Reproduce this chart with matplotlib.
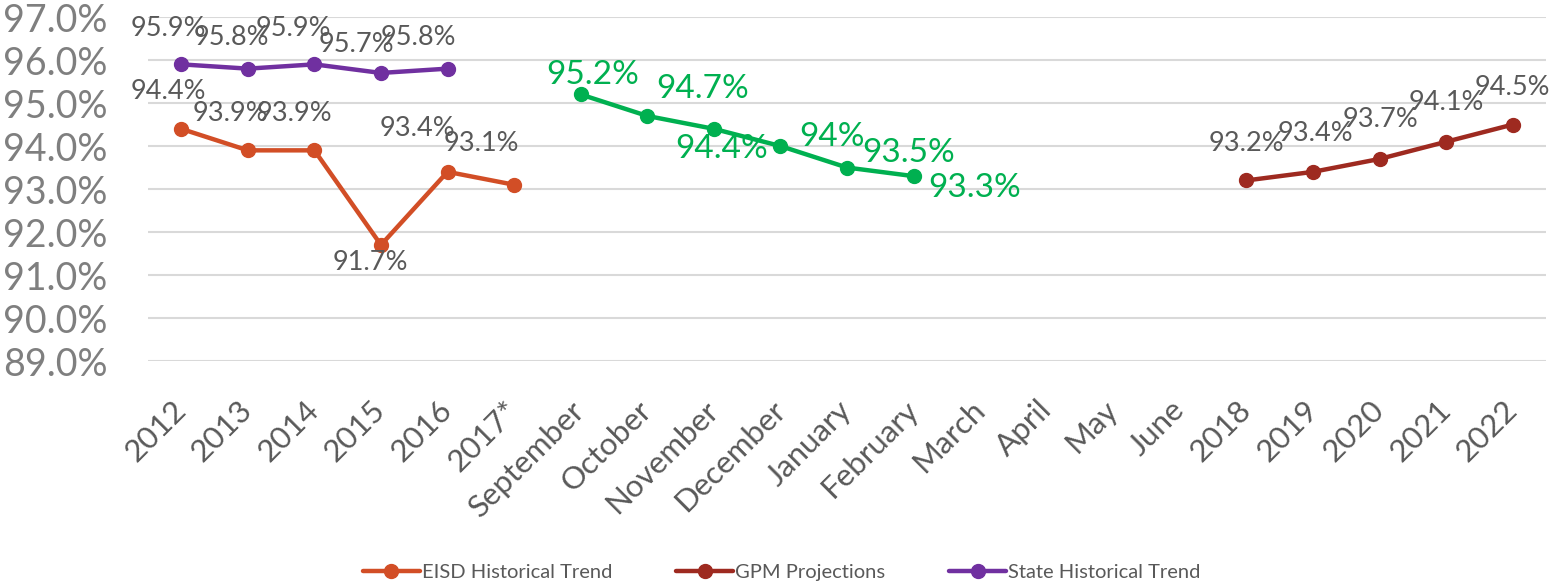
import matplotlib.pyplot as plt
import numpy as np

plt.rcParams['font.family'] = ['Lato', 'DejaVu Sans']

categories = ['2012', '2013', '2014', '2015', '2016', '2017*',
              'September', 'October', 'November', 'December', 'January', 'February',
              'March', 'April', 'May', 'June',
              '2018', '2019', '2020', '2021', '2022']

eisd_cats = ['2012', '2013', '2014', '2015', '2016', '2017*']
eisd_vals = [94.4, 93.9, 93.9, 91.7, 93.4, 93.1]

state_cats = ['2012', '2013', '2014', '2015', '2016']
state_vals = [95.9, 95.8, 95.9, 95.7, 95.8]

month_cats = ['September', 'October', 'November', 'December', 'January', 'February']
month_vals = [95.2, 94.7, 94.4, 94.0, 93.5, 93.3]
month_labels = ['95.2%', '94.7%', '94.4%', '94%', '93.5%', '93.3%']

gpm_cats = ['2018', '2019', '2020', '2021', '2022']
gpm_vals = [93.2, 93.4, 93.7, 94.1, 94.5]

# label offsets in pixels (dx, dy)
eisd_off = [(-13, 37), (-17, 37), (-20, 37), (-11, -18), (-30, 43), (-33, 41)]
state_off = [(-13, 36), (-16, 31), (-21, 36), (-25, 28), (-29, 31)]
month_off = [(12, 19), (55, 27), (8, -20), (52, 9), (62, 15), (61, -12)]
gpm_off = [(0, 37), (2, 38), (1, 39), (0, 39), (0, 37)]

GRAY = '#595959'

fig = plt.figure(figsize=(15.54, 5.88), dpi=100)
ax = fig.add_axes([0.0952, 0.386, 0.8997, 0.585])


def draw(cats, vals, color, label, offs, texts=None, tcolor=GRAY, tsize=19.5):
    x = [categories.index(c) for c in cats]
    ax.plot(x, vals, color=color, lw=3.2, marker='o', ms=10, label=label,
            solid_capstyle='round', zorder=3)
    if texts is None:
        texts = ['%.1f%%' % v for v in vals]
    for xi, v, t, o in zip(x, vals, texts, offs):
        ax.annotate(t, (xi, v), xytext=o, textcoords='offset pixels',
                    ha='center', va='center', color=tcolor, fontsize=tsize)


draw(eisd_cats, eisd_vals, '#D24E26', 'EISD Historical Trend', eisd_off)
draw(gpm_cats, gpm_vals, '#9E2A20', 'GPM Projections', gpm_off)
draw(state_cats, state_vals, '#7030A0', 'State Historical Trend', state_off)
draw(month_cats, month_vals, '#00B050', '_nolegend_', month_off,
     texts=month_labels, tcolor='#00B050', tsize=24)

ax.set_xlim(-0.5, len(categories) - 0.5)
ax.set_ylim(89, 97)
ax.set_yticks(np.arange(89, 97.5, 1))
ax.set_yticklabels(['%.1f%%' % v for v in np.arange(89, 97.5, 1)])
ax.set_xticks(range(len(categories)))
ax.set_xticklabels(categories, rotation=45, ha='right', va='center',
                   rotation_mode='anchor')

ax.grid(axis='y', color='#D9D9D9', lw=1.5)
ax.set_axisbelow(True)
for s in ax.spines.values():
    s.set_visible(False)
ax.tick_params(axis='y', length=0, pad=29, labelsize=27, labelcolor='#7F7F7F')
ax.tick_params(axis='x', length=0, pad=32, labelsize=22.5, labelcolor=GRAY)

fig.legend(loc='center', bbox_to_anchor=(0.503, 0.026), ncol=3, frameon=False,
           fontsize=14.5, labelcolor=GRAY, handlelength=2.8, handletextpad=0.1,
           columnspacing=3.2)

fig.savefig('out.png', dpi=100)
